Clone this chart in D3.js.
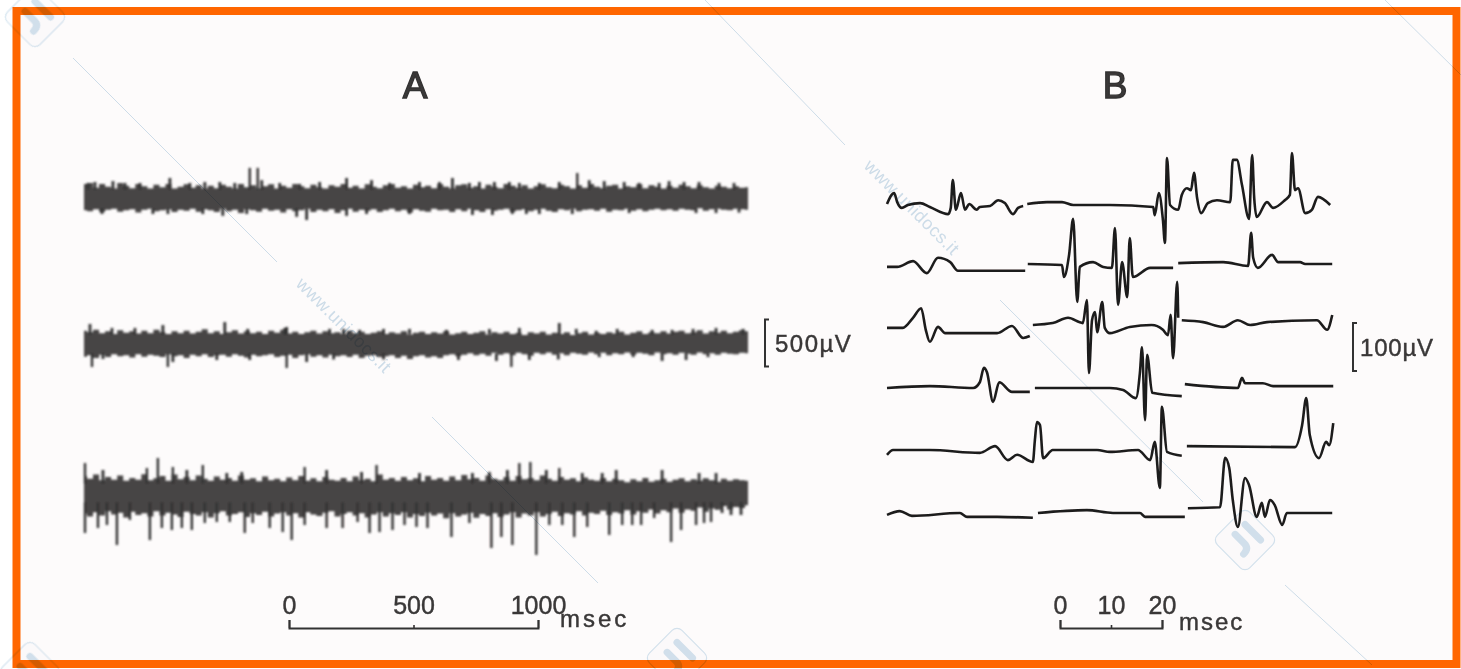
<!DOCTYPE html>
<html>
<head>
<meta charset="utf-8">
<script src="https://cdn.jsdelivr.net/npm/d3@7"></script>
<style>
  html, body { margin: 0; padding: 0; background: #fff; overflow: hidden; }
  text { font-family: "Liberation Sans", sans-serif; fill: #3a3838; }
</style>
</head>
<body>
<script>
// Panel A: jagged edge of each record in uV, 111 samples over the 2660 msec sweep
var upperA1 = [150,160,110,150,120,100,160,130,105,150,125,100,140,115,150,100,120,145,110,135,100,130,105,140,120,100,150,115,135,105,125,145,100,130,110,150,125,105,140,115,100,135,120,150,110,130,100,145,120,105,135,150,110,125,100,140,115,130,105,150,120,100,135,145,110,125,100,140,120,105,150,130,110,135,100,125,145,115,105,140,125,100,135,110,150,120,105,130,140,100,125,115,145,105,135,120,100,130,110,140,125,105,135,115,100,130,120,105,125,110,115]
var lowerA1 = [-130,-140,-120,-150,-125,-115,-145,-130,-120,-155,-125,-115,-140,-130,-120,-150,-125,-135,-115,-145,-120,-130,-150,-115,-140,-125,-160,-120,-130,-145,-115,-135,-125,-155,-120,-140,-130,-115,-150,-125,-140,-120,-160,-130,-115,-145,-125,-135,-120,-150,-130,-115,-140,-125,-155,-120,-135,-145,-115,-130,-125,-150,-120,-140,-115,-130,-150,-120,-135,-125,-115,-145,-130,-120,-140,-125,-115,-135,-150,-120,-130,-115,-140,-125,-120,-135,-115,-145,-125,-130,-115,-135,-120,-140,-125,-115,-130,-120,-135,-115,-125,-130,-110,-135,-120,-115,-125,-130,-115,-120,-125]
var upperA2 = [130,115,140,105,125,95,135,110,125,100,130,105,140,115,95,125,105,130,100,120,145,105,125,95,115,135,100,125,105,120,95,130,110,140,100,120,95,115,130,100,125,105,115,95,130,105,120,95,110,125,95,115,100,125,90,110,120,95,115,100,125,90,105,120,95,110,125,90,115,100,120,95,110,85,115,100,120,90,110,95,115,85,105,120,90,110,95,115,100,120,90,110,125,95,115,105,125,100,120,130,105,115,135,100,125,110,130,105,120,135,125]
var lowerA2 = [-145,-130,-160,-125,-150,-120,-140,-130,-155,-120,-145,-125,-135,-150,-120,-140,-130,-160,-125,-140,-120,-150,-130,-125,-145,-120,-135,-155,-125,-140,-130,-120,-150,-135,-125,-160,-130,-120,-145,-130,-155,-125,-140,-130,-150,-125,-160,-135,-130,-150,-140,-130,-160,-135,-170,-140,-130,-155,-140,-160,-130,-120,-140,-125,-110,-130,-115,-135,-105,-125,-110,-130,-105,-120,-135,-105,-120,-100,-125,-110,-130,-105,-115,-125,-100,-120,-105,-130,-110,-120,-100,-125,-105,-115,-130,-100,-120,-110,-125,-105,-115,-125,-100,-120,-110,-125,-105,-115,-120,-105,-110]
var upperA3 = [170,140,185,125,160,130,175,120,150,130,190,125,145,170,120,185,135,160,125,175,140,120,165,130,150,120,175,130,145,115,165,125,140,115,155,125,170,120,145,115,160,130,120,150,115,165,125,140,115,185,130,150,120,160,125,145,115,170,130,150,120,165,125,180,135,150,120,175,140,125,160,120,170,135,150,125,175,140,120,160,130,145,115,155,130,120,150,115,140,125,105,135,115,150,110,125,140,110,130,145,115,135,120,145,125,110,140,120,135,125,120]
var lowerA3 = [-230,-260,-215,-250,-205,-240,-220,-270,-210,-245,-225,-260,-205,-250,-220,-240,-265,-210,-235,-250,-215,-270,-225,-205,-250,-235,-215,-265,-225,-245,-210,-260,-230,-215,-250,-225,-270,-215,-240,-255,-220,-205,-260,-235,-215,-250,-225,-270,-240,-215,-260,-225,-245,-215,-270,-235,-255,-220,-250,-230,-280,-225,-260,-240,-220,-275,-235,-255,-225,-265,-240,-215,-270,-230,-250,-215,-260,-235,-210,-255,-225,-240,-205,-250,-220,-235,-200,-245,-215,-230,-195,-240,-205,-220,-185,-230,-195,-215,-175,-220,-185,-200,-165,-210,-175,-190,-150,-185,-160,-170,-140]

// Panel A: spikes past the edge, [msec, uV]
var spikesA1 = [[16,160],[44,170],[116,180],[164,160],[224,160],[344,213],[424,160],[484,170],[544,170],[604,160],[664,320],[696,320],[712,190],[784,160],[864,150],[944,170],[1052,213],[1152,190],[1224,160],[1344,170],[1424,170],[1476,213],[1544,160],[1584,170],[1644,170],[1704,170],[1744,160],[1824,160],[1904,170],[1976,266],[2024,190],[2084,180],[2164,170],[2224,160],[2304,160],[2344,180],[2404,170],[2464,170],[2544,160],[2604,160],
  [72,-170],[276,-170],[336,-170],[476,-170],[556,-190],[652,-170],[852,-200],[892,-234],[1052,-190],[1132,-170],[1304,-170],[1556,-180],[1636,-180],[1716,-170],[1772,-170],[1824,-170],[1956,-170],[2184,-160],[2452,-160],[2532,-160],[2624,-155]]
var spikesA2 = [[24,202],[112,160],[204,160],[316,191],[564,223],[656,150],[804,160],[812,170],[984,150],[1104,140],[1304,150],[1452,140],[1624,149],[1744,160],[1904,213],[1972,150],[2052,130],[2276,140],[2356,140],[2532,160],[2640,150],[1200,150],[1040,150],[2136,150],[2440,150],
  [32,-255],[76,-170],[336,-255],[356,-202],[532,-181],[664,-181],[812,-266],[892,-202],[1000,-175],[1200,-175],[1500,-181],[1652,-191],[1712,-255],[1784,-181],[1900,-175],[2064,-150],[2316,-191],[2412,-181],[2200,-150],[2500,-150]]
var spikesA3 = [[4,308],[76,234],[252,255],[296,362],[356,266],[412,234],[476,287],[572,202],[632,213],[884,266],[972,234],[1112,213],[1172,287],[1344,202],[1556,202],[1624,213],[1696,234],[1744,308],[1788,319],[1852,234],[1904,255],[1996,202],[2076,202],[2132,234],[2316,234],[2464,202],[2532,202],
  [4,-436],[56,-383],[92,-351],[132,-564],[184,-298],[264,-511],[312,-383],[352,-404],[392,-383],[432,-404],[484,-330],[532,-319],[584,-319],[644,-436],[676,-330],[744,-383],[796,-426],[832,-511],[884,-351],[972,-383],[1036,-383],[1096,-319],[1144,-436],[1184,-426],[1236,-404],[1284,-351],[1332,-372],[1376,-383],[1472,-479],[1544,-330],[1632,-596],[1672,-479],[1716,-564],[1812,-670],[1864,-351],[1916,-351],[1964,-479],[2016,-372],[2104,-457],[2156,-351],[2196,-351],[2232,-351],[2284,-277],[2352,-532],[2392,-404],[2452,-351],[2484,-330],[2512,-319],[2556,-223],[2592,-245],[2632,-245]]

// Panel B: six sweeps, each cut in pieces, [msec, uV]
var sweepB1 = [
  [[0,2],[1.4,25],[2,6],[2.9,-6],[4.1,0],[6.5,4],[8.4,-4],[12,-19],[12.5,-6],[12.9,52],[13.5,-10],[14.5,25],[15.3,-10],[16.1,2],[17.6,-10],[18.2,-4],[20.2,-2],[21.8,10],[23.1,4],[24.7,-19],[25.7,-6],[26.7,-2]],
  [[27.5,2],[31.4,6],[34.3,6],[36.5,0],[43.7,0],[52.2,-4],[52.5,-21],[53.3,25],[54.1,-31],[54.5,-79],[54.9,98],[55.5,0],[57.1,-10],[57.8,21],[58.8,35],[59.6,31],[60.2,67],[60.8,15],[61.6,-17],[62.9,4],[64.7,10],[67.3,6],[67.8,94],[68.6,94],[69.6,42],[71,-29],[71.6,104],[72,15],[72.5,-25],[74.5,6],[75.7,-6],[78,10],[79,21],[79.4,108],[80,31],[80.6,35],[82,-17],[83.3,-10],[84.5,17],[86.9,0]]
]
var sweepB2 = [
  [[0,-4],[2,-4],[5.1,8],[7.8,-17],[10,15],[12.4,6],[13.9,-12],[27.1,-12]],
  [[27.6,2],[34.3,0],[34.7,-25],[35.7,21],[36.5,96],[37.3,-77],[37.8,-4],[40.4,6],[42.4,-4],[44.1,-6],[44.7,77],[45.3,-83],[46.1,6],[47.1,-67],[47.6,56],[48.2,-25],[51.6,-6],[56.1,-6]],
  [[57.1,4],[65.9,6],[70.8,-2],[71.4,67],[71.8,15],[72.7,-6],[75.5,21],[76.7,6],[81,6],[82,2],[87.3,2]]
]
var sweepB3 = [
  [[0,-6],[3.1,-6],[5.1,15],[6.7,35],[7.6,-10],[8.4,-35],[10,-4],[11.4,-17],[21.6,-17],[24.5,-2],[26.7,-27],[28,-23]],
  [[28.6,0],[32.5,4],[35.5,15],[38.4,4],[39.2,52],[39.6,-100],[40.2,10],[40.8,27],[41.2,-15],[42.2,48],[42.7,-6],[43.7,-17],[47.6,-4],[51.9,0],[54.1,-10],[55.1,-21],[55.6,21],[56.1,-69],[56.9,90],[57.1,15]],
  [[57.8,10],[62,6],[65.9,-4],[68.8,10],[71.2,0],[74.5,6],[84.3,10],[86.3,-10],[87.3,21]]
]
var sweepB4 = [
  [[0,0],[8.4,4],[16.9,0],[18.2,12],[19,42],[19.6,33],[20.8,-29],[22,12],[24.5,-8],[28,-8]],
  [[29,0],[43.7,0],[46.3,-4],[48.8,-21],[49.6,33],[50,85],[50.6,-67],[51,69],[52,-10],[57.8,-17]],
  [[58.4,8],[68.8,0],[69.6,21],[70.2,10],[73.7,10],[75.7,4],[87.5,4]]
]
var sweepB5 = [
  [[0,-10],[1.2,0],[8.4,0],[18.2,-6],[21.2,8],[23.7,-21],[25.5,-10],[28.6,-25],[29,21],[29.4,58],[30,52],[30.6,-17],[32.5,0],[41.2,0],[43.7,-4],[49.2,0],[51.6,-21],[52.5,17],[53.5,-79],[53.9,90],[54.9,-4],[57.8,-12]],
  [[58.8,8],[80,6],[81.4,52],[82.2,108],[82.9,31],[84.7,-17],[86.1,17],[86.7,10],[87.5,56]]
]
var sweepB6 = [
  [[0,-4],[2.5,4],[4.9,-6],[14.3,0],[15.7,-8],[21.6,-8],[28.6,-10]],
  [[29.6,0],[39.2,6],[44.3,0],[49.6,0],[50.6,-8],[58.4,-8]],
  [[59,10],[65.3,12],[66.3,115],[67.1,94],[67.8,27],[68.8,-29],[70.2,73],[71,58],[72.5,-8],[73.5,21],[74.1,-8],[75.1,27],[76,17],[77.5,-25],[78.4,0],[87.3,0]]
]

var timeTicksA = [0, 500, 1000]
var timeTicksB = [0, 10, 20]
var scaleBarA = 500
var scaleBarB = 100

// Layout
var width = 1461, height = 669
var baselinesA = [198, 343, 492]
var baselinesB = [205, 265, 325, 388, 450, 513]
var ink = "#333131"

var svg = d3.select("body").append("svg")
  .attr("width", width)
  .attr("height", height)
  .style("display", "block")

var defs = svg.append("defs")
function blur(id, amount){
  defs.append("filter").attr("id", id)
    .attr("x", "-10%").attr("y", "-30%").attr("width", "120%").attr("height", "160%")
    .append("feGaussianBlur").attr("stdDeviation", amount)
}
blur("scanA", 0.9)
blur("scanB", 0.75)
blur("scanText", 0.7)

// Paper and frame
svg.append("rect").attr("width", width).attr("height", height).attr("fill", "#fff")
svg.append("rect")
  .attr("x", 16.5).attr("y", 11)
  .attr("width", 1440).attr("height", 653)
  .attr("fill", "#fdfbfb")
  .attr("stroke", "#ff6600")
  .attr("stroke-width", 8)

// Scales
var xA = d3.scaleLinear().domain([0, 2660]).range([84, 748])
var xB = d3.scaleLinear().domain([0, 20]).range([887, 989])
var voltA = d3.scaleLinear().domain([0, 500]).range([0, 47])
var voltB = d3.scaleLinear().domain([0, 100]).range([0, 48])

// Panel A records
var gA = svg.append("g").attr("filter", "url(#scanA)")

function draw_record(upper, lower, spikes, base){
  var step = 2660 / (upper.length - 1)
  var area = d3.area()
    .curve(d3.curveStep)
    .x((d, i) => xA(i * step))
    .y0((d, i) => base - voltA(lower[i]))
    .y1((d, i) => base - voltA(d))

  gA.append("path")
    .attr("d", area(upper))
    .attr("fill", "#464444")

  // spikes start at the solid part of the band so they do not streak through it
  gA.append("g").selectAll("line")
    .data(spikes)
    .join("line")
    .attr("x1", d => xA(d[0]))
    .attr("x2", d => xA(d[0]))
    .attr("y1", d => base - voltA(d[1] > 0 ? 90 : -110))
    .attr("y2", d => base - voltA(d[1]))
    .attr("stroke", ink)
    .attr("stroke-width", d => Math.abs(d[1]) > 250 ? 2.4 : 2.8)
}

draw_record(upperA1, lowerA1, spikesA1, baselinesA[0])
draw_record(upperA2, lowerA2, spikesA2, baselinesA[1])
draw_record(upperA3, lowerA3, spikesA3, baselinesA[2])

// Panel B sweeps
var gB = svg.append("g").attr("filter", "url(#scanB)")

var sweeps = [sweepB1, sweepB2, sweepB3, sweepB4, sweepB5, sweepB6]
sweeps.forEach((pieces, r) => {
  var line = d3.line()
    .curve(d3.curveMonotoneX)
    .x(d => xB(d[0]))
    .y(d => baselinesB[r] - voltB(d[1]))

  gB.append("g").selectAll("path")
    .data(pieces)
    .join("path")
    .attr("d", line)
    .attr("fill", "none")
    .attr("stroke", "#1f1d1d")
    .attr("stroke-width", 2.6)
    .attr("stroke-linejoin", "round")
})

// Time bars
function time_bar(ticks, x0, x1, unit, unitX, unitDy, spacing){
  var scale = d3.scaleLinear().domain([ticks[0], ticks[2]]).range([x0, x1])
  var axis = d3.axisTop(scale)
    .tickValues(ticks)
    .tickSize(8)
    .tickPadding(6)
    .tickFormat(d3.format("d"))

  var g = svg.append("g")
    .attr("transform", "translate(0,628)")
    .attr("filter", "url(#scanText)")
    .call(axis)

  g.select(".domain").attr("stroke", ink).attr("stroke-width", 2)
  g.selectAll(".tick line")
    .attr("stroke", ink)
    .attr("stroke-width", 1.6)
    .attr("y2", (d, i) => i == 1 ? -3 : -8)
  g.selectAll(".tick text")
    .attr("fill", ink)
    .style("font-family", '"Liberation Sans", sans-serif')
    .style("font-size", "25px")
    .style("stroke", ink)
    .style("stroke-width", 0.4)

  g.append("text")
    .attr("x", unitX)
    .attr("y", unitDy)
    .attr("text-anchor", "start")
    .attr("fill", ink)
    .style("font-family", '"Liberation Sans", sans-serif')
    .style("font-size", "24px")
    .style("letter-spacing", spacing + "px")
    .style("stroke", ink)
    .style("stroke-width", 0.4)
    .text(unit)
}

time_bar(timeTicksA, 289, 538, "msec", 560, -1, 3)
time_bar(timeTicksB, 1060, 1162, "msec", 1179, 2, 2)

// Voltage bars
function volt_bar(x, yMid, size, label, labelX, spacing){
  var g = svg.append("g").attr("filter", "url(#scanText)")
  g.append("path")
    .attr("d", "M" + (x + 4) + "," + (yMid - size / 2) + "H" + x + "V" + (yMid + size / 2) + "H" + (x + 4))
    .attr("fill", "none")
    .attr("stroke", ink)
    .attr("stroke-width", 2)
  g.append("text")
    .attr("x", labelX)
    .attr("y", yMid + 9)
    .style("font-size", "24px")
    .style("letter-spacing", spacing + "px")
    .style("stroke", ink)
    .style("stroke-width", 0.4)
    .text(label)
}

volt_bar(765, 343, voltA(scaleBarA), scaleBarA + "\u00b5V", 775, 1.5)
volt_bar(1353, 347, voltB(scaleBarB), scaleBarB + "\u00b5V", 1360, 0.8)

// Panel letters
svg.selectAll(".panel")
  .data([["A", 415], ["B", 1115]])
  .join("text")
  .attr("class", "panel")
  .attr("x", d => d[1])
  .attr("y", 98)
  .attr("text-anchor", "middle")
  .attr("filter", "url(#scanText)")
  .style("font-size", "37px")
  .style("stroke", ink)
  .style("stroke-width", 1.3)
  .text(d => d[0])

// Watermark over the scan
var wm = svg.append("g").style("mix-blend-mode", "multiply")
var wmLines = [[73,58,277,262], [432,417,598,583], [705,0,845,145], [1000,300,1203,502], [1385,0,1461,75], [1285,585,1372,665]]
wm.selectAll("line")
  .data(wmLines)
  .join("line")
  .attr("x1", d => d[0]).attr("y1", d => d[1])
  .attr("x2", d => d[2]).attr("y2", d => d[3])
  .attr("stroke", "#cfe0ec")
  .attr("stroke-width", 1)

wm.selectAll("text")
  .data([[295,285], [863,167]])
  .join("text")
  .attr("transform", d => "translate(" + d[0] + "," + d[1] + ") rotate(45)")
  .style("fill", "#cfe0ec")
  .style("font-size", "18px")
  .style("letter-spacing", "0.5px")
  .text("www.unidocs.it")

var badges = wm.selectAll(".badge")
  .data([[35,17], [1245,540], [677,658], [30,672]])
  .join("g")
  .attr("class", "badge")
  .attr("transform", d => "translate(" + d[0] + "," + d[1] + ") rotate(45)")
badges.append("rect")
  .attr("x", -23).attr("y", -23)
  .attr("width", 46).attr("height", 46)
  .attr("rx", 7)
  .attr("fill", "#fdfdfe")
  .attr("stroke", "#d5e5f0")
  .attr("stroke-width", 1.2)
badges.append("path")
  .attr("d", "M-11,-11 H11 M-11,3 H2 Q9,3 9,11")
  .attr("fill", "none")
  .attr("stroke", "#d3e3ef")
  .attr("stroke-width", 7)
  .attr("stroke-linecap", "round")
</script>
</body>
</html>
